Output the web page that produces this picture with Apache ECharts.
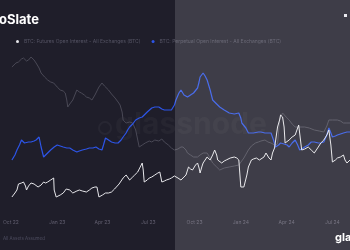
<!DOCTYPE html>
<html><head><meta charset="utf-8">
<script src="https://cdn.jsdelivr.net/npm/echarts@6/dist/echarts.min.js"></script>
<style>html,body{margin:0;padding:0;background:#1f1e2a;}#c{width:350px;height:250px;}</style>
</head><body><div id="c"></div>
<script>
// x = days since 3 Oct 2022, y = open interest (thousand BTC)
const greyDays = [0,8,13,19,23,29,33,38,44,48,54,58,65,71,77,83,90,96,102,106,109,111,115,121,125,129,134,138,144,148,154,159,165,173,179,184,192,198,205,211,215,219,221,227,234,240,246,253,259,265,273,278,284,292,298,303,311,317,323,330,336,340,346,349,355,361,369,374,380,388,394,399,407,413,422,432,442,451,461,470,476,484,490,495,503,509,515,522,528,532,538,545,551,557,563,572,582,591,601,611,620,626,630,637,647,653,659,666,672];
const greyOI = [366,374,376,382,384,378,380,386,380,374,364,354,346,340,336,334,326,320,318,314,300,286,292,300,310,320,316,314,310,306,304,300,310,326,334,328,320,312,304,296,290,276,260,254,256,254,240,206,210,214,218,216,220,218,222,216,210,204,200,202,206,206,200,194,190,186,186,190,194,194,184,174,166,160,164,166,168,170,184,200,208,214,216,218,220,216,214,210,212,260,274,266,260,252,246,246,246,244,240,238,236,248,260,260,260,258,254,254,254];

const blueDays = [0,6,10,15,19,25,33,38,44,48,54,58,63,71,77,84,90,96,102,109,115,121,129,134,140,148,154,161,167,173,179,182,186,192,198,205,211,217,221,227,230,234,240,246,253,259,269,278,284,292,298,303,311,317,323,326,332,336,342,349,355,361,369,372,374,380,384,388,394,399,407,413,422,432,442,451,455,457,465,470,480,490,495,503,509,515,520,524,530,534,541,547,551,557,563,568,572,576,582,589,595,601,609,614,620,626,630,634,637,643,647,653,659,666,672];
const blueOI = [180,190,200,210,220,214,216,216,218,220,226,206,186,194,200,206,210,208,206,204,204,200,196,198,200,202,204,204,206,202,200,210,224,220,216,214,214,220,226,234,240,246,252,260,264,266,276,284,286,286,282,280,280,280,290,300,314,320,310,306,310,314,324,336,346,354,348,340,320,300,292,286,280,274,272,274,264,254,244,234,234,236,236,234,234,234,220,206,210,214,212,210,206,214,220,210,200,202,206,210,216,216,214,214,216,230,244,234,226,228,230,232,234,236,236];

const whiteDays = [0,6,10,13,15,19,23,27,29,33,35,38,44,52,58,63,67,71,77,83,84,88,96,102,108,111,115,121,129,134,140,148,154,159,165,169,171,173,180,186,192,198,204,207,213,221,227,230,234,240,244,250,253,259,261,263,269,273,278,284,290,294,296,298,303,307,313,317,323,326,330,336,342,346,351,355,359,365,369,372,374,378,380,384,388,394,399,403,407,409,417,422,426,434,442,447,451,455,461,467,470,476,480,486,492,495,501,505,511,515,518,522,528,532,534,538,541,543,551,557,563,566,570,576,582,589,595,601,605,609,614,620,626,630,634,637,643,647,653,659,662,666,672];
const whiteOI = [106,114,120,132,136,134,136,128,120,128,130,134,132,126,130,136,134,136,140,144,120,106,110,114,122,126,120,114,118,120,118,116,120,124,126,126,116,106,110,114,114,116,122,126,132,144,150,154,140,146,150,156,160,174,160,136,140,144,146,150,154,156,146,136,138,140,142,144,148,150,144,140,146,150,166,162,160,170,174,164,154,168,174,180,186,180,190,200,190,180,174,178,180,184,186,184,180,126,126,150,166,180,182,184,180,176,186,194,184,180,194,204,246,260,270,266,246,214,220,226,230,234,250,200,202,206,200,194,200,206,214,220,230,240,210,176,180,184,186,190,180,174,180];

const tickDays = [-2, 90, 180, 271, 363, 455, 546, 637];
const tickLabels = ['Oct 22','Jan 23','Apr 23','Jul 23','Oct 23','Jan 24','Apr 24','Jul 24'];

const nameGrey = 'BTC: Futures Open Interest - Binance (BTC)';
const nameWhite = 'BTC: Futures Open Interest - All Exchanges (BTC)';
const nameBlue = 'BTC: Perpetual Open Interest - All Exchanges (BTC)';

const zip = (xs, ys) => xs.map((x, i) => [x, ys[i]]);

const chart = echarts.init(document.getElementById('c'), null, {renderer: 'canvas'});
chart.setOption({
  backgroundColor: '#1f1e2a',
  animation: false,
  grid: {left: 0, right: 0, top: 0, bottom: 32},
  legend: {
    left: 11, top: 34, itemWidth: 3, itemHeight: 3, itemGap: 11, icon: 'circle',
    textStyle: {fontSize: 5, color: '#545363', fontFamily: 'Inter'},
    data: [nameWhite, nameBlue], selectedMode: false
  },
  xAxis: {
    type: 'value', min: -2, max: 672,
    axisLine: {show: false}, axisTick: {show: false}, splitLine: {show: false},
    axisLabel: {
      customValues: tickDays, showMinLabel: true, hideOverlap: false, alignMinLabel: 'center',
      margin: 2, fontSize: 5, color: '#625f70', fontFamily: 'Inter',
      formatter: v => { const i = tickDays.indexOf(v); return i >= 0 ? tickLabels[i] : ''; }
    }
  },
  yAxis: {type: 'value', min: 64, max: 500, show: false},
  series: [
    {name: nameGrey, type: 'line', data: zip(greyDays, greyOI), showSymbol: false,
     lineStyle: {color: '#4a4956', width: 1}, itemStyle: {color: '#4a4956'}, z: 2},
    {name: nameBlue, type: 'line', data: zip(blueDays, blueOI), showSymbol: false,
     lineStyle: {color: '#2d55e8', width: 1.2}, itemStyle: {color: '#2d55e8'}, z: 3},
    {name: nameWhite, type: 'line', data: zip(whiteDays, whiteOI), showSymbol: false,
     lineStyle: {color: '#e6e6ea', width: 1}, itemStyle: {color: '#e6e6ea'}, z: 4}
  ],
  graphic: [
    {type: 'text', left: 115, top: 110, z: 1, silent: true,
     style: {text: 'glassnode', fontSize: 30, fontWeight: 'bold', fontFamily: 'Inter', fill: 'rgba(255,255,255,0.03)'}},
    {type: 'circle', shape: {cx: 105, cy: 128, r: 6}, z: 1, silent: true,
     style: {fill: 'none', stroke: 'rgba(255,255,255,0.04)', lineWidth: 2}},
    {type: 'text', x: 39, y: 14, z: 10, silent: true,
     style: {text: 'CryptoSlate', align: 'right', fontSize: 13, fontWeight: 'bold', fontFamily: 'Inter', fill: '#ffffff'}},
    {type: 'text', x: 3, y: 236, z: 10, silent: true,
     style: {text: 'All Assets Assumed', fontSize: 4.5, fontFamily: 'Inter', fill: '#4e4d60'}},
    {type: 'rect', shape: {x: 344, y: 14, width: 3, height: 3}, z: 10, silent: true, style: {fill: '#e8e8ee'}},
    {type: 'rect', shape: {x: 175, y: 0, width: 175, height: 250}, z: 50, silent: true,
     style: {fill: 'rgba(255,255,255,0.14)'}},
    {type: 'text', x: 335, y: 232, z: 60, silent: true,
     style: {text: 'glassnode', fontSize: 11, fontWeight: 'bold', fontFamily: 'Inter', fill: '#ffffff'}}
  ]
});
</script></body></html>
